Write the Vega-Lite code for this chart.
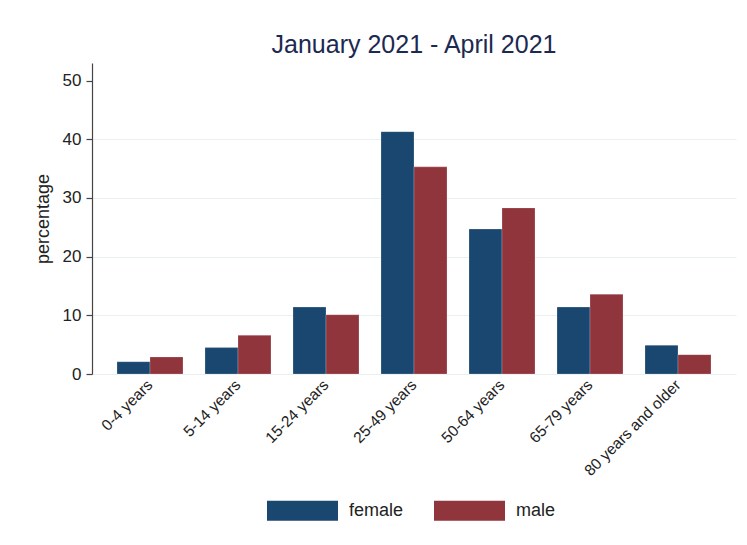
{
  "$schema": "https://vega.github.io/schema/vega-lite/v6.json",
  "width": 644,
  "height": 311,
  "autosize": "none",
  "padding": {"left": 92, "top": 63, "right": 11, "bottom": 171},
  "background": "white",
  "title": {"text": "January 2021 - April 2021", "fontSize": 25, "font": "Liberation Sans", "fontWeight": "normal", "color": "#1c2951", "anchor": "middle", "baseline": "alphabetic", "offset": 9, "dy": 24},
  "data": {"values": [
    {"age": "0-4 years", "sex": "female", "pct": 2.1},
    {"age": "0-4 years", "sex": "male", "pct": 2.9},
    {"age": "5-14 years", "sex": "female", "pct": 4.5},
    {"age": "5-14 years", "sex": "male", "pct": 6.6},
    {"age": "15-24 years", "sex": "female", "pct": 11.4},
    {"age": "15-24 years", "sex": "male", "pct": 10.1},
    {"age": "25-49 years", "sex": "female", "pct": 41.3},
    {"age": "25-49 years", "sex": "male", "pct": 35.3},
    {"age": "50-64 years", "sex": "female", "pct": 24.7},
    {"age": "50-64 years", "sex": "male", "pct": 28.3},
    {"age": "65-79 years", "sex": "female", "pct": 11.4},
    {"age": "65-79 years", "sex": "male", "pct": 13.6},
    {"age": "80 years and older", "sex": "female", "pct": 4.9},
    {"age": "80 years and older", "sex": "male", "pct": 3.3}
  ]},
  "mark": {"type": "bar", "stroke": "white", "strokeOpacity": 0.35, "strokeWidth": 0.6},
  "encoding": {
    "x": {
      "field": "age", "type": "nominal",
      "sort": ["0-4 years", "5-14 years", "15-24 years", "25-49 years", "50-64 years", "65-79 years", "80 years and older"],
      "scale": {"paddingInner": 0.25, "paddingOuter": 0.284},
      "axis": {"title": null, "labelAngle": -45, "labelAlign": "right", "labelBaseline": "middle", "labelFontSize": 15.5, "labelFont": "Liberation Sans", "labelColor": "#222222", "domain": false, "ticks": false, "labelPadding": 8, "grid": false}
    },
    "xOffset": {"field": "sex", "type": "nominal", "sort": ["female", "male"], "scale": {"paddingInner": 0, "paddingOuter": 0}},
    "y": {
      "field": "pct", "type": "quantitative",
      "scale": {"domain": [0, 53], "nice": false, "zero": true},
      "axis": {
        "values": [0, 10, 20, 30, 40, 50],
        "title": "percentage", "titleFont": "Liberation Sans", "titleFontSize": 18, "titleFontWeight": "normal", "titleColor": "#222222", "titlePadding": 10,
        "labelFont": "Liberation Sans", "labelFontSize": 17, "labelColor": "#222222", "labelPadding": 5,
        "domainColor": "#444444", "domainWidth": 1.2, "tickColor": "#444444", "tickSize": 6, "tickWidth": 1.2,
        "grid": true, "gridColor": "#eaf0f2", "gridWidth": 1.2,
        "gridOpacity": {"condition": {"test": "datum.value == 50", "value": 0}, "value": 1}
      }
    },
    "color": {
      "field": "sex", "type": "nominal",
      "scale": {"domain": ["female", "male"], "range": ["#1a476f", "#90353b"]},
      "legend": {
        "title": null, "orient": "none", "direction": "horizontal",
        "legendX": 175, "legendY": 412,
        "symbolType": "M-1,-0.28L1,-0.28L1,0.28L-1,0.28Z",
        "symbolSize": 5041, "symbolStrokeWidth": 0, "symbolOpacity": 1,
        "labelFont": "Liberation Sans", "labelFontSize": 18, "labelColor": "#222222", "labelOffset": 11,
        "columnPadding": 30, "padding": 0
      }
    }
  },
  "config": {"view": {"stroke": null}}
}
